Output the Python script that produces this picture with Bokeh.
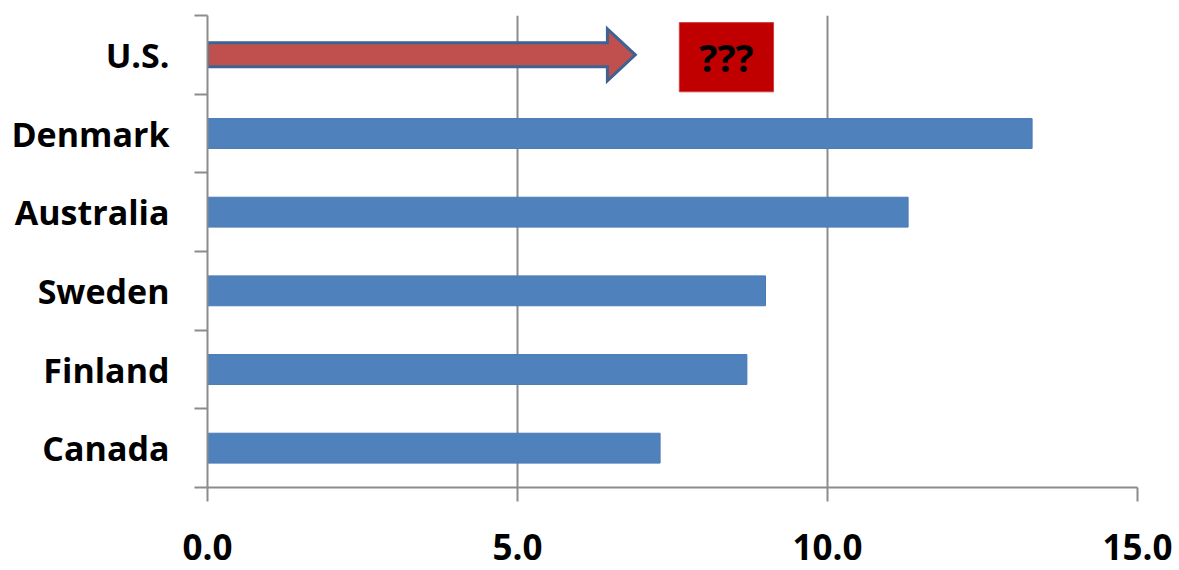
from bokeh.plotting import figure
from bokeh.models import Range1d, FixedTicker, NumeralTickFormatter, ColumnDataSource, Label, LinearAxis
from bokeh.embed import file_html
from bokeh.resources import INLINE

# ---- data ----
countries = ["U.S.", "Denmark", "Australia", "Sweden", "Finland", "Canada"]  # top to bottom
bar_countries = ["Denmark", "Australia", "Sweden", "Finland", "Canada"]
bar_values = [13.3, 11.3, 9.0, 8.7, 7.3]
x_ticks = [0, 5, 10, 15]
unknown_text = "???"

n = len(countries)
ypos = {c: n - 1 - i + 0.5 for i, c in enumerate(countries)}

FONT = "Open Sans"
W, H = 1179, 570
p = figure(width=W, height=H, output_backend="svg", toolbar_location=None,
           x_range=Range1d(0, 15), y_range=Range1d(0, n),
           min_border_left=207, min_border_right=42, min_border_top=15, min_border_bottom=83,
           outline_line_color=None)
p.xaxis.visible = False
p.yaxis.visible = False
p.ygrid.visible = False

xa = LinearAxis(ticker=FixedTicker(ticks=x_ticks), formatter=NumeralTickFormatter(format="0.0"))
xa.axis_line_color = "#8c8c8c"
xa.axis_line_width = 2
xa.major_tick_line_color = "#8c8c8c"
xa.major_tick_line_width = 2
xa.major_tick_in = 0
xa.major_tick_out = 14
xa.minor_tick_line_color = None
xa.major_label_text_font = FONT
xa.major_label_text_font_style = "bold"
xa.major_label_text_font_size = "35px"
xa.major_label_text_color = "#000000"
xa.major_label_standoff = 32
p.add_layout(xa, "below")

ya = LinearAxis(ticker=FixedTicker(ticks=[ypos[c] for c in countries],
                                   minor_ticks=list(range(n + 1))))
ya.major_label_overrides = {ypos[c]: c for c in countries}
ya.axis_line_color = "#8c8c8c"
ya.axis_line_width = 2
ya.major_tick_line_color = None
ya.major_tick_in = 0
ya.major_tick_out = 0
ya.minor_tick_line_color = "#8c8c8c"
ya.minor_tick_line_width = 2
ya.minor_tick_in = 0
ya.minor_tick_out = 13
ya.major_label_text_font = FONT
ya.major_label_text_font_style = "bold"
ya.major_label_text_font_size = "34px"
ya.major_label_text_color = "#000000"
ya.major_label_standoff = 25
p.add_layout(ya, "left")

p.xgrid.ticker = FixedTicker(ticks=x_ticks[1:])
p.xgrid.grid_line_color = "#8c8c8c"
p.xgrid.grid_line_width = 2

src = ColumnDataSource(dict(y=[ypos[c] for c in bar_countries], v=bar_values))
p.hbar(y="y", left=0, right="v", height=0.38, source=src, fill_color="#4f81bd",
       line_color="#4a7ab5", line_width=1)

# US arrow (unknown value)
yc = ypos["U.S."]
bh, hh = 0.153, 0.33
tip, base = 6.9, 6.45
p.patch(x=[0, base, base, tip, base, base, 0],
        y=[yc - bh, yc - bh, yc - hh, yc, yc + hh, yc + bh, yc + bh],
        fill_color="#c0504d", line_color="#3d6392", line_width=3, line_join="miter")

# ??? box
p.quad(left=7.61, right=9.13, bottom=5.03, top=5.91, fill_color="#c00000", line_color="#d04040", line_width=1)
p.add_layout(Label(x=(7.61 + 9.13) / 2, y=(5.03 + 5.91) / 2, text=unknown_text,
                   text_align="center", text_baseline="middle", text_font=FONT,
                   text_font_style="bold", text_font_size="38px", text_color="#000000"))

open("out.html", "w").write(file_html(p, INLINE))
